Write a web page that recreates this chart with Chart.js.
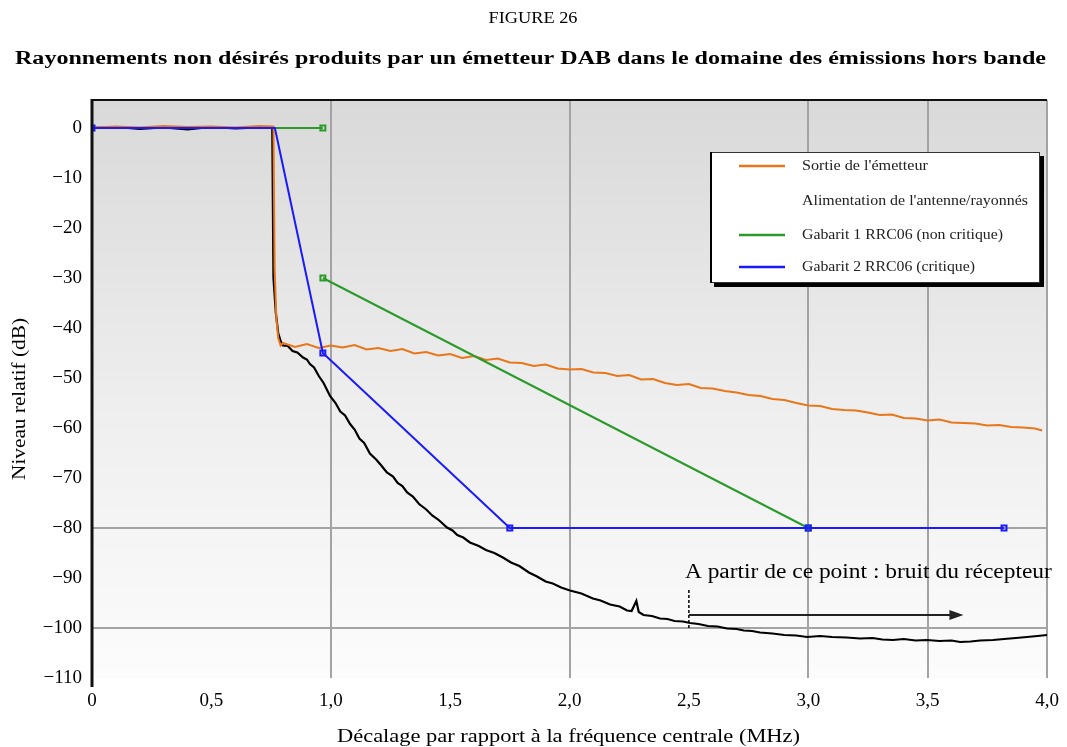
<!DOCTYPE html>
<html>
<head>
<meta charset="utf-8">
<script src="https://cdn.jsdelivr.net/npm/chart.js"></script>
<style>
  html, body { margin: 0; padding: 0; background: #fff; }
  #wrap { width: 1067px; height: 747px; }
</style>
</head>
<body>
<div id="wrap"><canvas id="chart" width="1067" height="747"></canvas></div>
<script>
// --- data ---
const yTickValues = [0, -10, -20, -30, -40, -50, -60, -70, -80, -90, -100, -110];
const xTickValues = [0, 0.5, 1, 1.5, 2, 2.5, 3, 3.5, 4];
const xGridValues = [1, 2, 3, 3.5, 4];
const yGridValues = [-80, -100];

const seriesNames = [
  "Sortie de l'émetteur",
  "Alimentation de l'antenne/rayonnés",
  'Gabarit 1 RRC06 (non critique)',
  'Gabarit 2 RRC06 (critique)'
];

const sortieFreq = [0, 0.1, 0.2, 0.3, 0.4, 0.5, 0.6, 0.7, 0.76, 0.765, 0.772, 0.78, 0.79,
  0.80, 0.85, 0.90, 0.95, 1.00, 1.05, 1.10, 1.15, 1.20, 1.25, 1.30, 1.35, 1.40, 1.45, 1.50,
  1.55, 1.60, 1.65, 1.70, 1.75, 1.80, 1.85, 1.90, 1.95, 2.00, 2.05, 2.10, 2.15, 2.20, 2.25,
  2.30, 2.35, 2.40, 2.45, 2.50, 2.55, 2.60, 2.65, 2.70, 2.75, 2.80, 2.85, 2.90, 2.95, 3.00,
  3.05, 3.10, 3.15, 3.20, 3.25, 3.30, 3.35, 3.40, 3.45, 3.50, 3.55, 3.60, 3.65, 3.70, 3.75,
  3.80, 3.85, 3.90, 3.95, 3.98];
const sortieLevel = [0.1, 0.3, 0.1, 0.4, 0.2, 0.3, 0.1, 0.4, 0.3, -28, -38, -42, -43.5,
  -43.0, -43.8, -43.2, -44.0, -43.5, -43.9, -43.4, -44.3, -44.0, -44.6, -44.2, -45.1, -44.8, -45.5, -45.2,
  -46.0, -45.6, -46.4, -46.1, -46.9, -47.0, -47.6, -47.3, -48.1, -48.3, -48.2, -48.9, -49.0, -49.6, -49.4,
  -50.3, -50.2, -51.0, -51.4, -51.2, -52.0, -52.1, -52.6, -52.9, -53.4, -53.6, -54.2, -54.4, -55.0, -55.5,
  -55.6, -56.2, -56.4, -56.5, -56.9, -57.4, -57.3, -58.0, -58.1, -58.5, -58.3, -58.9, -59.0, -59.1, -59.5,
  -59.4, -59.8, -59.9, -60.1, -60.5];

const antenneFreq = [0, 0.1, 0.2, 0.3, 0.4, 0.5, 0.6, 0.7, 0.755, 0.76, 0.77, 0.78, 0.79,
  0.80, 0.82, 0.84, 0.86, 0.884, 0.90, 0.913, 0.93, 0.95, 0.97, 0.997, 1.02, 1.04, 1.06,
  1.081, 1.10, 1.12, 1.14, 1.164, 1.19, 1.21, 1.235, 1.261, 1.28, 1.30, 1.32, 1.344, 1.37,
  1.40, 1.425, 1.45, 1.487, 1.51, 1.53, 1.555, 1.583, 1.62, 1.65, 1.685, 1.721, 1.755, 1.79,
  1.83, 1.864, 1.90, 1.93, 1.965, 2.002, 2.05, 2.098, 2.13, 2.17, 2.21, 2.241, 2.26, 2.28,
  2.29, 2.31, 2.345, 2.379, 2.41, 2.44, 2.475, 2.505, 2.54, 2.58, 2.62, 2.66, 2.70, 2.73,
  2.765, 2.798, 2.85, 2.90, 2.95, 2.995, 3.05, 3.10, 3.16, 3.217, 3.27, 3.31, 3.355, 3.40,
  3.45, 3.497, 3.55, 3.60, 3.636, 3.68, 3.72, 3.774, 3.82, 3.87, 3.916, 3.96, 4.00];
const antenneLevel = [0, 0.2, -0.2, 0.1, -0.3, 0.2, -0.1, 0.1, 0, -30, -37, -41, -42.6,
  -43.5, -43.6, -44.6, -44.9, -45.9, -46.3, -47.2, -47.9, -49.6, -51.0, -53.6, -55.0, -56.7, -57.5,
  -59.2, -60.3, -62.1, -63.0, -65.1, -66.3, -67.4, -68.9, -69.7, -71.0, -71.6, -72.9, -73.7, -75.2,
  -76.3, -77.5, -78.3, -79.9, -80.5, -81.4, -81.9, -82.9, -83.6, -84.4, -85.0, -85.9, -86.9, -87.6,
  -88.9, -89.7, -90.7, -91.1, -91.9, -92.5, -93.1, -94.1, -94.5, -95.3, -95.7, -96.5, -96.6, -94.6,
  -96.8, -97.4, -97.6, -98.1, -98.2, -98.6, -98.7, -99.0, -99.2, -99.6, -99.7, -100.1, -100.2, -100.5,
  -100.6, -100.9, -101.1, -101.4, -101.5, -101.8, -101.6, -101.8, -101.9, -102.1, -102.0, -102.3, -102.4, -102.2,
  -102.5, -102.4, -102.6, -102.5, -102.8, -102.7, -102.5, -102.4, -102.2, -102.0, -101.8, -101.6, -101.4];

const gabarit1Freq = [0.766, 0.967, null, 0.967, 3.0];
const gabarit1Level = [0, 0, null, -30, -80];
const gabarit1Marks = [false, true, false, true, true];

const gabarit2Freq = [0, 0.766, 0.967, 1.75, 3.0, 3.82];
const gabarit2Level = [0, 0, -45, -80, -80, -80];
const gabarit2Marks = [true, false, true, true, true, true];

// annotation: "A partir de ce point"
const noteFreq = 2.5;
const noteArrowEnd = 3.65;
const noteLevels = [-92.4, -100, -97.4];
const noteText = 'A partir de ce point : bruit du récepteur';

const FONT = '"Liberation Serif", "Times New Roman", serif';

const toPoints = (xs, ys) => xs.map((x, i) => (x === null ? { x: NaN, y: null } : { x, y: ys[i] }));
const minus = v => (v < 0 ? '\u2212' + Math.abs(v) : String(v));

// the scanned figure uses a slightly wide serif, so stretch text to the measured width
function fitText(ctx, text, x, y, width, align) {
  const w = ctx.measureText(text).width;
  const k = width / w;
  ctx.save();
  ctx.textAlign = 'left';
  const left = align === 'center' ? x - width / 2 : x;
  ctx.translate(left, y);
  ctx.scale(k, 1);
  ctx.fillText(text, 0, 0);
  ctx.restore();
}

const paperPlugin = {
  id: 'paper',
  beforeDraw(chart) {
    const { ctx, chartArea: a } = chart;
    const g = ctx.createLinearGradient(0, a.top, 0, a.bottom);
    g.addColorStop(0, '#d9d9d9');
    g.addColorStop(0.55, '#efefef');
    g.addColorStop(1, '#fcfcfc');
    ctx.save();
    ctx.fillStyle = g;
    ctx.fillRect(a.left, a.top, a.right - a.left, a.bottom - a.top);
    ctx.restore();
  },
  afterDraw(chart) {
    const { ctx, chartArea: a } = chart;
    const xs = chart.scales.x, ys = chart.scales.y;
    ctx.save();

    // frame
    ctx.strokeStyle = '#111';
    ctx.lineWidth = 2;
    ctx.beginPath();
    ctx.moveTo(a.left, a.top);
    ctx.lineTo(a.right, a.top);
    ctx.stroke();
    ctx.lineWidth = 3;
    ctx.beginPath();
    ctx.moveTo(a.left, a.top - 1);
    ctx.lineTo(a.left, a.bottom + 9);
    ctx.stroke();

    // titles
    ctx.fillStyle = '#000';
    ctx.textBaseline = 'middle';
    ctx.font = '17px ' + FONT;
    fitText(ctx, 'FIGURE 26', 533, 19, 89, 'center');
    ctx.font = 'bold 18px ' + FONT;
    fitText(ctx, 'Rayonnements non désirés produits par un émetteur DAB dans le domaine des émissions hors bande', 530.5, 59, 1031, 'center');
    ctx.font = '19px ' + FONT;
    fitText(ctx, 'Décalage par rapport à la fréquence centrale (MHz)', 568.5, 737, 463, 'center');
    ctx.save();
    ctx.translate(20, 399);
    ctx.rotate(-Math.PI / 2);
    fitText(ctx, 'Niveau relatif (dB)', 0, 0, 162, 'center');
    ctx.restore();

    // legend box
    const lx = 710, ly = 152, lw = 330, lh = 131;
    ctx.fillStyle = '#000';
    ctx.fillRect(lx + 4, ly + 4, lw, lh);
    ctx.fillStyle = '#fff';
    ctx.fillRect(lx, ly, lw, lh);
    ctx.strokeStyle = '#333';
    ctx.lineWidth = 1;
    ctx.strokeRect(lx + 0.5, ly + 0.5, lw - 1, lh - 1);
    ctx.fillStyle = '#000';
    ctx.fillRect(lx, ly, 2, lh);
    const rows = [166, 201, 235, 267];
    const rowWidths = [126, 226, 201, 173];
    const swatch = ['#e8761a', null, '#2a9a2a', '#1a1aff'];
    ctx.font = '15px ' + FONT;
    rows.forEach((ry, i) => {
      if (swatch[i]) {
        ctx.strokeStyle = swatch[i];
        ctx.lineWidth = 2.5;
        ctx.beginPath();
        ctx.moveTo(739, ry);
        ctx.lineTo(785, ry);
        ctx.stroke();
      }
      ctx.fillStyle = '#222';
      fitText(ctx, seriesNames[i], 802, ry, rowWidths[i], 'left');
    });

    // annotation
    const px = xs.getPixelForValue(noteFreq);
    ctx.strokeStyle = '#000';
    ctx.lineWidth = 1.5;
    ctx.setLineDash([3, 2]);
    ctx.beginPath();
    ctx.moveTo(px, ys.getPixelForValue(noteLevels[0]));
    ctx.lineTo(px, ys.getPixelForValue(noteLevels[1]));
    ctx.stroke();
    ctx.setLineDash([]);
    const ay = ys.getPixelForValue(noteLevels[2]);
    const ex = xs.getPixelForValue(noteArrowEnd);
    ctx.lineWidth = 2;
    ctx.strokeStyle = '#222';
    ctx.beginPath();
    ctx.moveTo(px, ay);
    ctx.lineTo(ex - 12, ay);
    ctx.stroke();
    ctx.fillStyle = '#222';
    ctx.beginPath();
    ctx.moveTo(ex, ay);
    ctx.lineTo(ex - 14, ay - 5);
    ctx.lineTo(ex - 14, ay + 5);
    ctx.closePath();
    ctx.fill();
    ctx.fillStyle = '#000';
    ctx.font = '20px ' + FONT;
    ctx.textBaseline = 'alphabetic';
    fitText(ctx, noteText, px - 4, 578, 367, 'left');

    ctx.restore();
  }
};

const markRadius = marks => marks.map(m => (m ? 3.5 : 0));

new Chart(document.getElementById('chart'), {
  type: 'line',
  data: {
    datasets: [
      {
        label: seriesNames[3],
        data: toPoints(gabarit2Freq, gabarit2Level),
        borderColor: '#1a1aff',
        borderWidth: 2,
        pointStyle: 'rect',
        pointRadius: markRadius(gabarit2Marks),
        pointBorderWidth: 2,
        pointBorderColor: '#1a1aff',
        pointBackgroundColor: 'rgba(0,0,0,0)',
        tension: 0
      },
      {
        label: seriesNames[2],
        data: toPoints(gabarit1Freq, gabarit1Level),
        borderColor: '#2a9a2a',
        borderWidth: 2,
        pointStyle: 'rect',
        pointRadius: markRadius(gabarit1Marks),
        pointBorderWidth: 2,
        pointBorderColor: '#2a9a2a',
        pointBackgroundColor: 'rgba(0,0,0,0)',
        spanGaps: false,
        tension: 0
      },
      {
        label: seriesNames[0],
        data: toPoints(sortieFreq, sortieLevel),
        borderColor: '#e8761a',
        borderWidth: 2,
        pointRadius: 0,
        tension: 0
      },
      {
        label: seriesNames[1],
        data: toPoints(antenneFreq, antenneLevel),
        borderColor: '#000',
        borderWidth: 2.2,
        pointRadius: 0,
        tension: 0
      }
    ]
  },
  options: {
    responsive: false,
    animation: false,
    layout: { padding: { top: 100, right: 20, bottom: 0, left: 0 } },
    plugins: {
      legend: { display: false },
      title: { display: false },
      tooltip: { enabled: false }
    },
    scales: {
      x: {
        type: 'linear',
        min: 0,
        max: 4,
        afterFit: s => { s.height = 69; s.paddingRight = 0; s.paddingLeft = 0; },
        afterBuildTicks: s => { s.ticks = xTickValues.map(v => ({ value: v })); },
        border: { display: false },
        grid: {
          drawTicks: false,
          lineWidth: 2,
          color: c => (c.tick && xGridValues.includes(c.tick.value) ? '#a3a3a3' : 'rgba(0,0,0,0)')
        },
        ticks: {
          autoSkip: false,
          maxRotation: 0,
          padding: 12,
          color: '#000',
          font: { family: FONT, size: 19 },
          callback: v => (v === 0 ? '0' : v.toFixed(1).replace('.', ','))
        }
      },
      y: {
        type: 'linear',
        min: -110,
        max: 5.6,
        afterFit: s => { s.width = 92; },
        afterBuildTicks: s => { s.ticks = yTickValues.map(v => ({ value: v })); },
        border: { display: false },
        grid: {
          drawTicks: false,
          lineWidth: 2,
          color: c => (c.tick && yGridValues.includes(c.tick.value) ? '#a3a3a3' : 'rgba(0,0,0,0)')
        },
        ticks: {
          padding: 10,
          color: '#000',
          font: { family: FONT, size: 19 },
          callback: v => minus(v)
        }
      }
    }
  },
  plugins: [paperPlugin]
});
</script>
</body>
</html>
